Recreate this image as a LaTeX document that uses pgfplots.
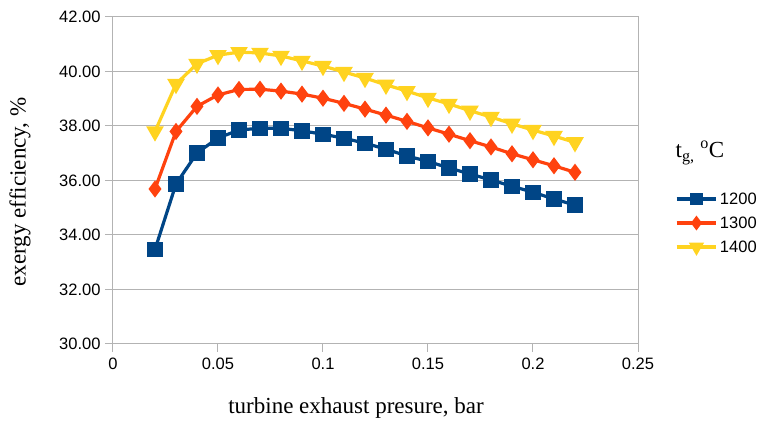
\documentclass[border=0pt]{standalone}
\usepackage{pgfplots}
\pgfplotsset{compat=1.18}
\usepackage{fontspec}
\setmainfont{Liberation Serif}
\newfontfamily\ticksans{Liberation Sans}
\definecolor{cblue}{HTML}{004586}
\definecolor{cred}{HTML}{FF420E}
\definecolor{cyellow}{HTML}{FFD320}
\definecolor{cgrid}{HTML}{B3B3B3}
\begin{document}
\begin{tikzpicture}
\path[use as bounding box] (-113pt,-78pt) rectangle (648pt,344pt);
\begin{axis}[
  at={(0,0)}, anchor=south west,
  scale only axis, width=525pt, height=327pt,
  xmin=0, xmax=0.25, ymin=30, ymax=42,
  xtick={0,0.05,0.1,0.15,0.2,0.25},
  xticklabels={0,0.05,0.1,0.15,0.2,0.25},
  ytick={30,32,34,36,38,40,42},
  yticklabels={30.00,32.00,34.00,36.00,38.00,40.00,42.00},
  ymajorgrids, major grid style={cgrid, line width=1pt},
  axis line style={cgrid, line width=1pt},
  tick style={cgrid, line width=1pt},
  tick align=outside, major tick length=8pt,
  xtick pos=bottom, ytick pos=left,
  ticklabel style={font=\ticksans\fontsize{16.5}{18}\selectfont, text=black},
  xticklabel style={yshift=-2pt},
  yticklabel style={xshift=-1pt},
  /pgf/number format/assume math mode=true,
  xlabel={turbine exhaust presure, bar},
  ylabel={exergy efficiency, \%},
  label style={font=\fontsize{23}{26}\selectfont},
  xlabel style={at={(axis description cs:0.463,0)}, anchor=center, yshift=-64pt},
  ylabel style={at={(axis description cs:-0.177,0.465)}, anchor=center},
  legend style={at={(axis description cs:1.07,0.47)}, anchor=north west,
    draw=none, fill=none, font=\ticksans\fontsize{16.5}{18}\selectfont,
    row sep=7pt, inner sep=0pt},
  legend cell align=left,
  legend image code/.code={%
    \draw[mark repeat=2,mark phase=2] plot coordinates {(0cm,0cm)(0.7cm,0cm)(1.4cm,0cm)};},
  legend image post style={every mark/.append style={scale=0.8}},
  clip=false,
]
\addplot[cblue, line width=3.2pt, mark=square*, mark size=6pt, mark options={solid}] coordinates {
(0.02,33.47)(0.03,35.87)(0.04,37.01)(0.05,37.56)(0.06,37.85)(0.07,37.92)(0.08,37.92)
(0.09,37.82)(0.10,37.70)(0.11,37.55)(0.12,37.37)(0.13,37.15)(0.14,36.90)(0.15,36.70)
(0.16,36.46)(0.17,36.24)(0.18,36.02)(0.19,35.79)(0.20,35.57)(0.21,35.32)(0.22,35.10)};
\addplot[cred, line width=3.2pt, mark=diamond*, mark size=6pt, mark options={solid}] coordinates {
(0.02,35.69)(0.03,37.80)(0.04,38.72)(0.05,39.14)(0.06,39.34)(0.07,39.35)(0.08,39.28)
(0.09,39.17)(0.10,39.02)(0.11,38.83)(0.12,38.62)(0.13,38.40)(0.14,38.17)(0.15,37.93)
(0.16,37.70)(0.17,37.46)(0.18,37.23)(0.19,36.98)(0.20,36.76)(0.21,36.54)(0.22,36.30)};
\addplot[cyellow, line width=3.2pt, mark=triangle*, mark size=7pt, mark options={solid, rotate=180}] coordinates {
(0.02,37.80)(0.03,39.54)(0.04,40.28)(0.05,40.60)(0.06,40.71)(0.07,40.68)(0.08,40.57)
(0.09,40.39)(0.10,40.20)(0.11,39.98)(0.12,39.76)(0.13,39.51)(0.14,39.28)(0.15,39.03)
(0.16,38.81)(0.17,38.56)(0.18,38.33)(0.19,38.08)(0.20,37.85)(0.21,37.63)(0.22,37.40)};
\legend{1200,1300,1400}
\end{axis}
\node[font=\fontsize{23}{26}\selectfont] at (587pt,191pt) {t\textsubscript{g,} \textsuperscript{o}C};
\end{tikzpicture}
\end{document}
